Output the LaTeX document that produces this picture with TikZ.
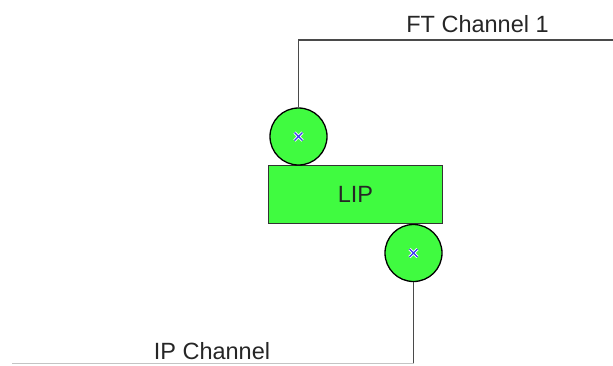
\documentclass[tikz,border=0pt]{standalone}
\usepackage{fontspec}
\setmainfont{Liberation Sans}
\usepackage{tikz}
\usetikzlibrary{positioning,calc}
\definecolor{portgreen}{HTML}{40FB40}
\definecolor{crossblue}{HTML}{3A3AF0}
\definecolor{wiregray}{HTML}{4A4A4A}
\definecolor{lightwire}{HTML}{C4C4C4}
\definecolor{labelgray}{HTML}{262626}

\begin{document}
\begin{tikzpicture}[x=1pt, y=-1pt,
    port/.style={circle, draw=black, fill=portgreen, line width=1.3pt,
        minimum size=57pt, inner sep=0pt,
        path picture={
            \draw[white, line width=3pt] ($(path picture bounding box.center)+(-4,-4)$) -- ++(8,8)
                ($(path picture bounding box.center)+(-4,4)$) -- ++(8,-8);
            \draw[crossblue, line width=1.3pt] ($(path picture bounding box.center)+(-4,-4)$) -- ++(8,8)
                ($(path picture bounding box.center)+(-4,4)$) -- ++(8,-8);
        }},
    block/.style={rectangle, draw=black!80, fill=portgreen, line width=1.3pt,
        minimum width=174pt, minimum height=58pt, inner sep=0pt,
        font=\fontsize{23.5}{28}\selectfont, text=labelgray},
    chlabel/.style={font=\fontsize{23.5}{28}\selectfont, text=labelgray},
    wire/.style={wiregray, line width=1.6pt}]
\useasboundingbox (0,0) rectangle (613,365);

% Block and its ports
\node[block] (lip) at (355.5,194.5) {LIP};
\node[port] (ftport) at (298.5,136.5) {};
\node[port] (ipport) at (413.5,253) {};

% Channel ends
\coordinate (ftcorner) at (298.5,40);
\coordinate (ftend) at (613,40);
\coordinate (ipcorner) at (413.5,363.5);
\coordinate (ipend) at (12,363.5);

% Channels
\draw[wire] (ftport.north) -- (ftcorner) -- (ftend);
\draw[wire] (ipport.south) -- (ipcorner);
\draw[lightwire, line width=1.6pt] (ipcorner) -- (ipend);

% Labels
\node[chlabel] (ftlabel) at (477.5,24) {FT Channel 1};
\node[chlabel] (iplabel) at (212,351) {IP Channel};
\end{tikzpicture}
\end{document}
